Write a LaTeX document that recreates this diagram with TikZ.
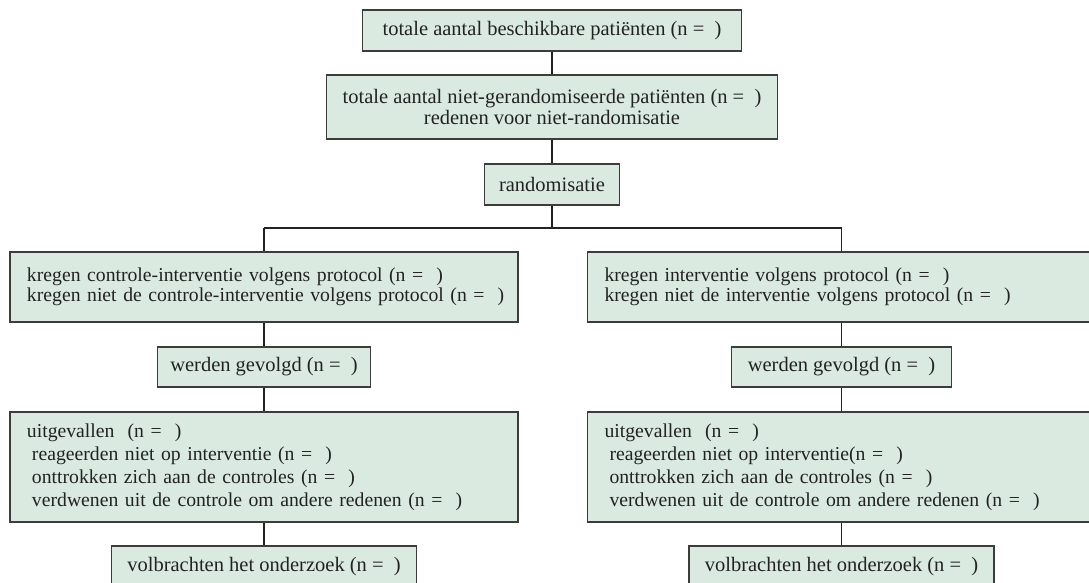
\documentclass[tikz,border=0pt]{standalone}
\usepackage{fontspec}
\setmainfont{Liberation Serif}
\definecolor{boxfill}{HTML}{DAEAE1}
\definecolor{boxline}{HTML}{3C3C3C}
\definecolor{txt}{HTML}{222222}
\begin{document}
\begin{tikzpicture}[x=1pt,y=-1pt,
  box/.style={rectangle, draw=boxline, line width=1.2pt, fill=boxfill, text=txt,
    inner ysep=0pt, inner xsep=0pt, align=center,
    font=\fontsize{20.5}{20.5}\selectfont},
  lbox/.style={box, align=left, inner xsep=17pt, text width=474pt,
    font=\fontsize{19.7}{20.5}\selectfont},
  lboxtall/.style={lbox, font=\fontsize{19.7}{23}\selectfont},
  conn/.style={draw=txt, line width=1.2pt}]
\useasboundingbox (0,0) rectangle (1089,583);
\clip (0,0) rectangle (1089,583);

% top column
\node[box, minimum width=379pt, minimum height=41pt] (b1) at (552,30.5)
  {totale aantal beschikbare patiënten (n =\ \ )};
\node[box, minimum width=451pt, minimum height=64pt] (b2) at (552,107)
  {totale aantal niet-gerandomiseerde patiënten (n =\ \ )\\redenen voor niet-randomisatie};
\node[box, minimum width=135pt, minimum height=41pt] (b3) at (552,184.5)
  {randomisatie};

\coordinate (jC) at (552,228);
\coordinate (jL) at (264,228);
\coordinate (jR) at (841.5,228);

% left column
\node[lbox, minimum height=70pt] (L4) at (264,287)
  {\mbox{kregen controle-interventie volgens protocol (n =\ \ )}\\
   \mbox{kregen niet de controle-interventie volgens protocol (n =\ \ )}};
\node[box, minimum width=213pt, minimum height=40pt] (Lw) at (264,367)
  {werden gevolgd (n =\ \ )};
\node[lboxtall, minimum height=110pt] (Lu) at (264,467)
  {\mbox{uitgevallen\ \ (n =\ \ )}\\
   \mbox{\hspace*{5pt}reageerden niet op interventie (n =\ \ )}\\
   \mbox{\hspace*{5pt}onttrokken zich aan de controles (n =\ \ )}\\
   \mbox{\hspace*{5pt}verdwenen uit de controle om andere redenen (n =\ \ )}};
\node[box, minimum width=305pt, minimum height=41pt] (Lv) at (264,566.5)
  {volbrachten het onderzoek (n =\ \ )};

% right column
\node[lbox, minimum height=70pt] (R4) at (841.5,287)
  {\mbox{kregen interventie volgens protocol (n =\ \ )}\\
   \mbox{kregen niet de interventie volgens protocol (n =\ \ )}};
\node[box, minimum width=220pt, minimum height=40pt] (Rw) at (841.5,367)
  {werden gevolgd (n =\ \ )};
\node[lboxtall, minimum height=110pt] (Ru) at (841.5,467)
  {\mbox{uitgevallen\ \ (n =\ \ )}\\
   \mbox{\hspace*{5pt}reageerden niet op interventie(n =\ \ )}\\
   \mbox{\hspace*{5pt}onttrokken zich aan de controles (n =\ \ )}\\
   \mbox{\hspace*{5pt}verdwenen uit de controle om andere redenen (n =\ \ )}};
\node[box, minimum width=305pt, minimum height=41pt] (Rv) at (841.5,566.5)
  {volbrachten het onderzoek (n =\ \ )};

% connectors
\draw[conn] (b1.south) -- (b2.north);
\draw[conn] (b2.south) -- (b3.north);
\draw[conn] (b3.south) -- (jC);
\draw[conn] (jL) -- (jR);
\draw[conn] (jL) -- (L4.north);
\draw[conn] (jR) -- (R4.north);
\draw[conn] (L4.south) -- (Lw.north);
\draw[conn] (Lw.south) -- (Lu.north);
\draw[conn] (Lu.south) -- (Lv.north);
\draw[conn] (R4.south) -- (Rw.north);
\draw[conn] (Rw.south) -- (Ru.north);
\draw[conn] (Ru.south) -- (Rv.north);
\end{tikzpicture}
\end{document}
